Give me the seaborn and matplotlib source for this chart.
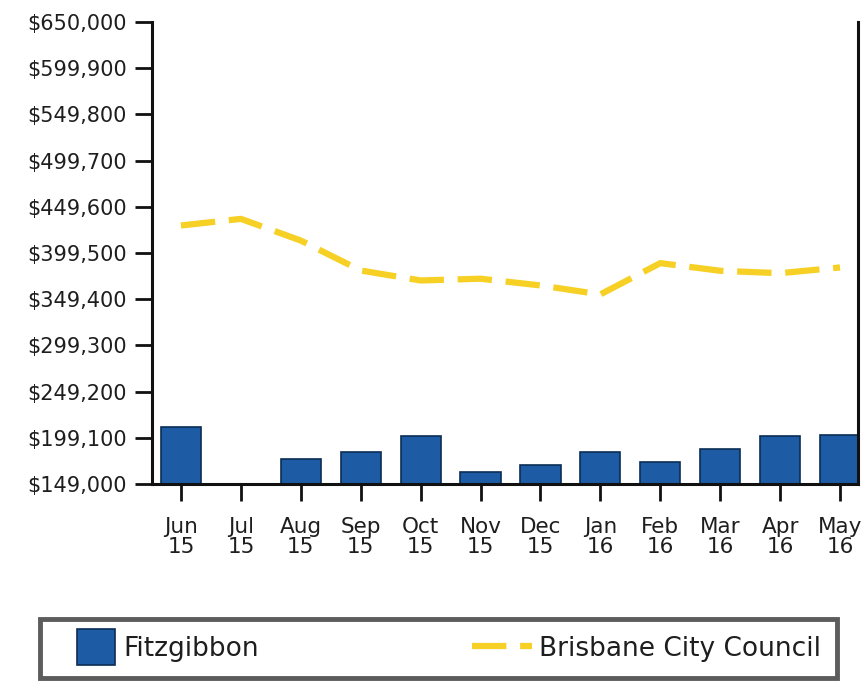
import numpy as np
import pandas as pd
import matplotlib
matplotlib.use("Agg")
import matplotlib.pyplot as plt
import matplotlib.patches as mpatches
from matplotlib.legend_handler import HandlerPatch, update_from_first_child
from matplotlib.container import BarContainer
import seaborn as sns

# chart data
months = ["Jun\n15", "Jul\n15", "Aug\n15", "Sep\n15", "Oct\n15", "Nov\n15",
          "Dec\n15", "Jan\n16", "Feb\n16", "Mar\n16", "Apr\n16", "May\n16"]
fitzgibbon = [210400, np.nan, 175700, 184000, 200900, 162300,
              169200, 183600, 172800, 187200, 200900, 201700]
brisbane = [429300, 436500, 413000, 380500, 369700, 371600,
            364300, 354600, 388500, 380200, 377600, 383800]
y_ticks = [149000, 199100, 249200, 299300, 349400, 399500,
           449600, 499700, 549800, 599900, 650000]

bar_color = "#1d5ca4"
line_color = "#f6d024"
text_color = "#1e1e1e"

sns.set_theme(style="white")
plt.rcParams["font.family"] = ["DejaVu Sans"]

df = pd.DataFrame({"month": months, "fitz": fitzgibbon,
                   "bcc": brisbane, "pos": np.arange(len(months))})

fig = plt.figure(figsize=(8.61, 6.83), dpi=100)
ax = fig.add_axes([0.1765, 0.2914, 0.8200, 0.6764])

sns.barplot(data=df, x="month", y="fitz", order=months, color=bar_color,
            width=0.67, edgecolor="#0b2d55", linewidth=1.2, saturation=1,
            label="Fitzgibbon", ax=ax)
sns.lineplot(data=df, x="pos", y="bcc", color=line_color, linewidth=4.5,
             dashes=False, label="Brisbane City Council", ax=ax)
ax.lines[-1].set_dashes([5.5, 2.2])
ax.lines[-1].set_solid_capstyle("butt")

ax.set_ylim(149000, 650000)
ax.set_xlim(-0.484, 11.30)
ax.set_yticks(y_ticks)
ax.set_yticklabels([f"${v:,}" for v in y_ticks])
ax.set_xticks(np.arange(len(months)))
ax.set_xticklabels(months, linespacing=1.0)
ax.set_xlabel("")
ax.set_ylabel("")

for side in ["left", "bottom", "right"]:
    ax.spines[side].set_color("#111111")
    ax.spines[side].set_linewidth(2.2)
ax.spines["top"].set_visible(False)
ax.tick_params(axis="y", direction="out", length=12, width=2, color="#111111",
               labelsize=15, labelcolor=text_color, pad=6, left=True)
ax.tick_params(axis="x", direction="out", length=12, width=2, color="#111111",
               labelsize=15.5, labelcolor=text_color, pad=12, bottom=True)


def square_patch(legend, orig_handle, xdescent, ydescent, width, height, fontsize):
    # narrow, tall swatch pushed to the right end of the handle box
    w = width * 0.64
    h = height * 1.55
    return mpatches.Rectangle((width - w - xdescent, -ydescent - (h - height) / 2), w, h)


handles, labels = ax.get_legend_handles_labels()
order = [labels.index("Fitzgibbon"), labels.index("Brisbane City Council")]
leg = ax.legend([handles[i] for i in order], [labels[i] for i in order],
                loc="center", bbox_to_anchor=(0.0465, 0.0044, 0.926, 0.092),
                bbox_transform=fig.transFigure, mode="expand", ncol=2,
                fontsize=19, frameon=True, fancybox=False,
                handlelength=2.25, handleheight=1.0, handletextpad=0.3,
                borderaxespad=0, borderpad=0.6, columnspacing=1.0,
                handler_map={BarContainer: HandlerPatch(
                    patch_func=square_patch, update_func=update_from_first_child)})
frame = leg.get_frame()
frame.set_edgecolor("#333333")
frame.set_linewidth(3.5)
for t in leg.get_texts():
    t.set_color(text_color)

fig.savefig("out.png", dpi=100)
